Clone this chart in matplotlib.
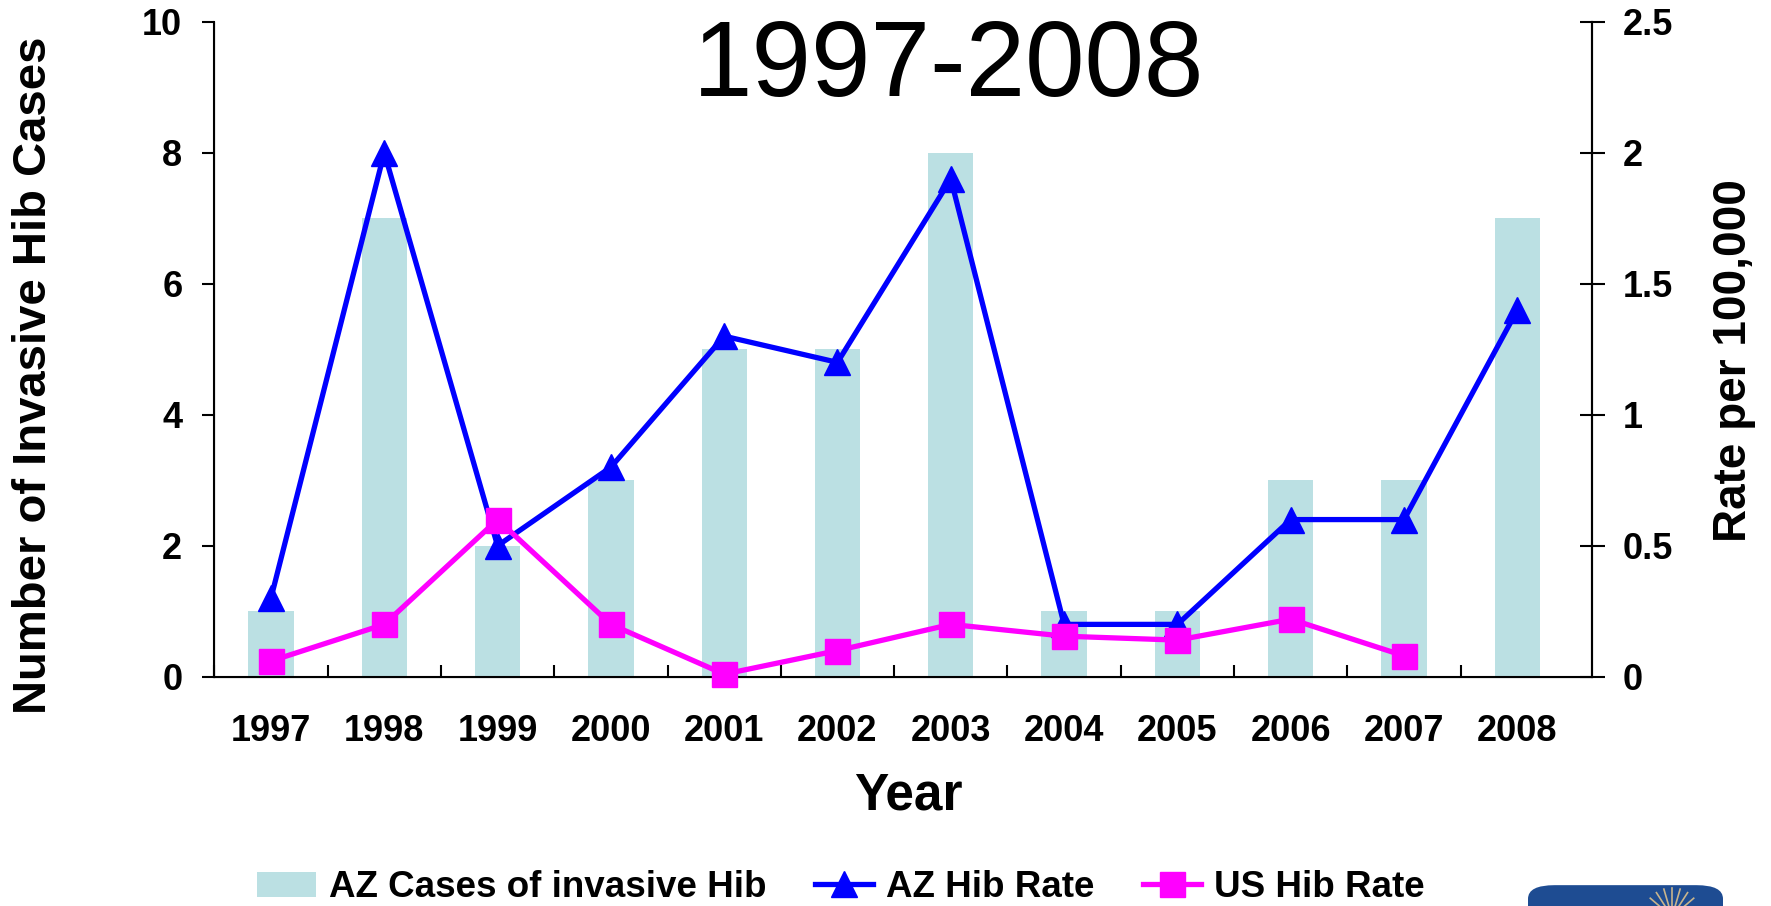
import numpy as np
import matplotlib
matplotlib.use("Agg")
import matplotlib.pyplot as plt
from matplotlib.patches import FancyBboxPatch, Patch
from matplotlib.lines import Line2D

plt.rcParams['font.family'] = ['Liberation Sans', 'DejaVu Sans']

years = ["1997", "1998", "1999", "2000", "2001", "2002",
         "2003", "2004", "2005", "2006", "2007", "2008"]
az_cases = [1, 7, 2, 3, 5, 5, 8, 1, 1, 3, 3, 7]
az_rate = [0.3, 2.0, 0.5, 0.8, 1.3, 1.2, 1.9, 0.2, 0.2, 0.6, 0.6, 1.4]
us_rate = [0.06, 0.2, 0.6, 0.2, 0.01, 0.1, 0.2, 0.155, 0.14, 0.22, 0.08]

bar_color = '#BBE0E3'
az_color = '#0000FF'
us_color = '#FF00FF'

fig = plt.figure(figsize=(17.71, 9.06), dpi=100)
ax = fig.add_axes([0.121, 0.253, 0.778, 0.723])
x = np.arange(len(years))

ax.bar(x, az_cases, width=0.4, color=bar_color, zorder=1)
ax.set_xlim(-0.5, 11.66)
ax.set_ylim(0, 10)
ax.set_yticks([0, 2, 4, 6, 8, 10])
ax.set_xticks(x)
ax.set_xticklabels(years)
ax.set_xticks(np.arange(-0.5, 11, 1.0), minor=True)
ax.tick_params(axis='x', which='major', length=0, pad=27, labelsize=26)
ax.tick_params(axis='x', which='minor', direction='in', length=9, width=1.5)
ax.tick_params(axis='y', direction='out', length=9, width=1.5, pad=14, labelsize=26)
for lab in ax.get_xticklabels() + ax.get_yticklabels():
    lab.set_fontweight('bold')
ax.spines['top'].set_visible(False)
for s in ['left', 'bottom', 'right']:
    ax.spines[s].set_linewidth(1.5)

ax2 = ax.twinx()
ax2.set_ylim(0, 2.5)
ax2.set_yticks([0, 0.5, 1, 1.5, 2, 2.5])
ax2.set_yticklabels(["0", "0.5", "1", "1.5", "2", "2.5"])
ax2.tick_params(axis='y', direction='inout', length=18, width=1.5, pad=13, labelsize=26)
for lab in ax2.get_yticklabels():
    lab.set_fontweight('bold')
ax2.spines['top'].set_visible(False)
ax2.spines['right'].set_linewidth(1.5)

ax2.plot(x, az_rate, color=az_color, lw=3.8, marker='^', markersize=19, zorder=3, clip_on=False)
ax2.plot(x[:len(us_rate)], us_rate, color=us_color, lw=3.8, marker='s', markersize=18,
         zorder=4, clip_on=False)

ax.text(0.533, 0.93, "1997-2008", transform=ax.transAxes, ha='center', va='center',
        fontsize=77)

ax.set_xlabel("Year", fontsize=37, fontweight='bold')
ax.xaxis.set_label_coords(0.504, -0.145)
ax.set_ylabel("Number of Invasive Hib Cases", fontsize=34, fontweight='bold')
ax.yaxis.label.set_va('center')
ax.yaxis.set_label_coords(-0.131, 0.46)
ax2.set_ylabel("Rate per 100,000", fontsize=33, fontweight='bold')
ax2.yaxis.label.set_va('center')
ax2.yaxis.set_label_coords(1.103, 0.483)

handles = [Patch(facecolor=bar_color, edgecolor='none'),
           Line2D([], [], color=az_color, lw=3.8, marker='^', markersize=19),
           Line2D([], [], color=us_color, lw=3.8, marker='s', markersize=18)]
labels = ["AZ Cases of invasive Hib", "AZ Hib Rate", "US Hib Rate"]
fig.legend(handles, labels, loc='center', bbox_to_anchor=(0.475, 0.02), ncol=3,
           frameon=False, prop={'size': 26.5, 'weight': 'bold'},
           handlelength=1.6, handletextpad=0.35, columnspacing=1.3, borderaxespad=0)

# partial logo at bottom right
logo = FancyBboxPatch((1528 / 1771, -0.05), 195 / 1771, 0.073,
                      boxstyle="round,pad=0,rounding_size=0.015",
                      transform=fig.transFigure, facecolor='#1E4C92', edgecolor='none')
fig.patches.append(logo)
cx, cy = 1672 / 1771, -0.012
for ang in np.linspace(40, 140, 7):
    a = np.deg2rad(ang)
    fig.add_artist(Line2D([cx + 0.004 * np.cos(a), cx + 0.016 * np.cos(a)],
                          [cy + 0.008 * np.sin(a), cy + 0.032 * np.sin(a)],
                          transform=fig.transFigure, color='#C8B48C', lw=1.2))

fig.savefig("out.png", dpi=100)
